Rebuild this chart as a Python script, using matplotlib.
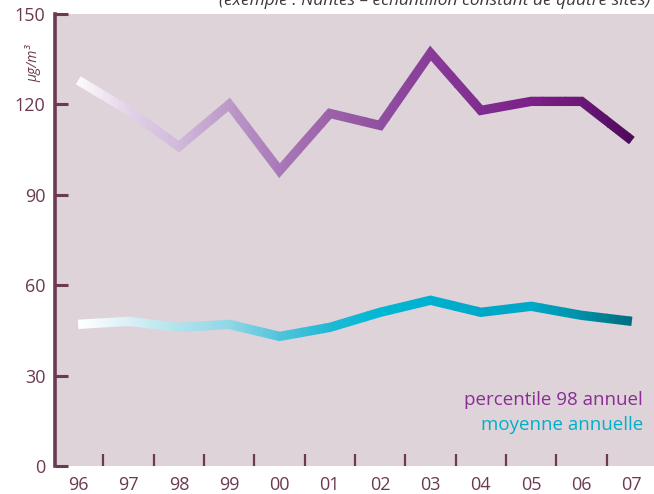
import matplotlib
matplotlib.use('Agg')
import matplotlib.pyplot as plt
import numpy as np
from matplotlib.colors import LinearSegmentedColormap
from matplotlib.patches import Rectangle

# data
years = ['96', '97', '98', '99', '00', '01', '02', '03', '04', '05', '06', '07']
p98 = [128, 118, 106, 120, 98, 117, 113, 137, 118, 121, 121, 108]
moyenne = [47, 48, 46, 47, 43, 46, 51, 55, 51, 53, 50, 48]
yticks = [0, 30, 60, 90, 120, 150]

dark = '#6b3a52'
bg = '#ddd3d9'

cmap_p98 = LinearSegmentedColormap.from_list('p98', [
    '#fcfafc', '#e2d2e6', '#d0b8da', '#bc98c8', '#a878b8', '#9c62a8',
    '#9050a0', '#883c98', '#802c90', '#7c2088', '#6a1878', '#4e0a5a'])
cmap_moy = LinearSegmentedColormap.from_list('moy', [
    '#ffffff', '#d8f0f5', '#b0e2ec', '#90d6e6', '#50c4dc', '#20b8d4',
    '#00b8d4', '#00b0d0', '#00a8c8', '#00a8c8', '#0090a8', '#006c80'])

plt.rcParams['font.family'] = ['Open Sans', 'DejaVu Sans']

fig = plt.figure(figsize=(6.54, 4.94), dpi=100)
ax = fig.add_axes([0.0841, 0.0567, 0.9159, 0.915])
ax.set_facecolor(bg)

x = np.arange(len(years))


def gradient_line(vals, cmap, nbands=150):
    # horizontal gradient: same polyline drawn once per vertical band, clipped
    edges = np.linspace(x[0] - 0.2, x[-1] + 0.2, nbands + 1)
    for a, b in zip(edges[:-1], edges[1:]):
        frac = np.clip(((a + b) / 2 - x[0]) / (x[-1] - x[0]), 0, 1)
        ln, = ax.plot(x, vals, color=cmap(frac), lw=6.7,
                      solid_joinstyle='miter', solid_capstyle='butt', zorder=3)
        clip = Rectangle((a, -500), b - a + 0.002, 1000, transform=ax.transData)
        ln.set_clip_path(clip)


gradient_line(p98, cmap_p98)
gradient_line(moyenne, cmap_moy)

ax.set_xlim(-0.46, 11.44)
ax.set_ylim(0, 150)

for s in ['top', 'right', 'bottom']:
    ax.spines[s].set_visible(False)
ax.spines['left'].set_color(dark)
ax.spines['left'].set_linewidth(2.6)

ax.set_yticks(yticks)
ax.tick_params(axis='y', direction='in', length=9.5, width=2.2, color=dark,
               labelcolor=dark, labelsize=13, pad=7)
ax.set_xticks(x)
ax.set_xticklabels(years)
ax.set_xticks(x[:-1] + 0.5, minor=True)
ax.tick_params(axis='x', which='major', length=0, labelcolor=dark,
               labelsize=13, pad=7.5)
ax.tick_params(axis='x', which='minor', direction='in', length=8.5,
               width=1.6, color=dark)

ax.text(-0.037, 0.89, 'µg/m³', transform=ax.transAxes, rotation=90,
        ha='center', va='center', fontsize=10, style='italic', color=dark)

ax.text(0.982, 0.145, 'percentile 98 annuel', transform=ax.transAxes,
        ha='right', va='center', fontsize=13.5, color='#8a2d94')
ax.text(0.982, 0.09, 'moyenne annuelle', transform=ax.transAxes,
        ha='right', va='center', fontsize=13.5, color='#00afc9')

fig.text(0.995, 0.99, '(exemple : Nantes – échantillon constant de quatre sites)',
         ha='right', va='baseline', fontsize=12.5, style='italic', color='#3a3a3a')

fig.savefig('out.png', dpi=100)
